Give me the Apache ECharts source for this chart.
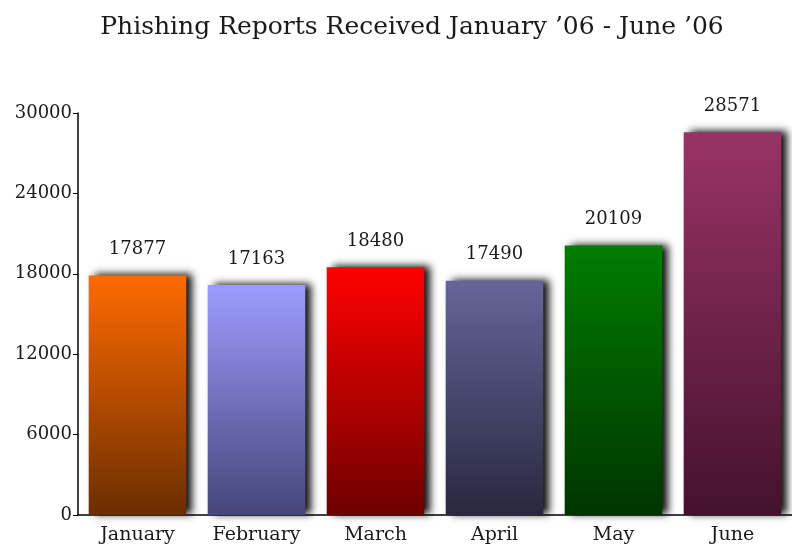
<!DOCTYPE html>
<html>
<head>
<meta charset="utf-8">
<script src="https://cdn.jsdelivr.net/npm/echarts@6/dist/echarts.min.js"></script>
<style>
  html, body { margin: 0; padding: 0; background: #fff; }
  #main { width: 792px; height: 548px; }
</style>
</head>
<body>
<div id="main"></div>
<script>
var months = ['January', 'February', 'March', 'April', 'May', 'June'];
var reports = [17877, 17163, 18480, 17490, 20109, 28571];
var topColors = ['#ff6a00', '#9c9cff', '#ff0000', '#65659a', '#007d00', '#993366'];
var bottomColors = ['#6a2e00', '#46467a', '#6e0000', '#28283f', '#003400', '#44122c'];
var yTicks = [0, 6000, 12000, 18000, 24000, 30000];

var serif = '"DejaVu Serif", "Liberation Serif", serif';

var myChart = echarts.init(document.getElementById('main'));

var barData = reports.map(function (v, i) {
    return {
        value: v,
        itemStyle: {
            color: new echarts.graphic.LinearGradient(0, 0, 0, 1, [
                {offset: 0, color: topColors[i]},
                {offset: 1, color: bottomColors[i]}
            ])
        }
    };
});

var option = {
    backgroundColor: '#fff',
    title: {
        text: "Phishing Reports Received January \u201906 - June \u201906",
        left: 407,
        textAlign: 'center',
        top: 10,
        textStyle: {fontFamily: serif, fontSize: 25, fontWeight: 'normal', color: '#1a1a1a'}
    },
    grid: {left: 78, top: 113, width: 718, bottom: 33},
    xAxis: {
        type: 'category',
        data: months,
        axisLine: {lineStyle: {color: '#000', width: 1.5}},
        axisTick: {length: 4, lineStyle: {color: '#000'}},
        axisLabel: {fontFamily: serif, fontSize: 19, color: '#1a1a1a', margin: 11}
    },
    yAxis: {
        type: 'value',
        min: yTicks[0],
        max: yTicks[yTicks.length - 1],
        interval: 6000,
        splitLine: {show: false},
        axisLine: {show: true, lineStyle: {color: '#000', width: 1.5}},
        axisTick: {show: true, length: 5, lineStyle: {color: '#000'}},
        axisLabel: {
            fontFamily: serif, fontSize: 18, color: '#1a1a1a', margin: 6,
            formatter: function (v) { return String(v); }
        }
    },
    series: [{
        type: 'bar',
        data: barData,
        barCategoryGap: '18%',
        itemStyle: {
            shadowColor: 'rgba(0,0,0,0.95)',
            shadowBlur: 8,
            shadowOffsetX: 6,
            shadowOffsetY: -1
        },
        label: {
            show: true,
            position: 'top',
            distance: 17,
            fontFamily: serif,
            fontSize: 18,
            color: '#1a1a1a'
        }
    }]
};
myChart.setOption(option);
</script>
</body>
</html>
